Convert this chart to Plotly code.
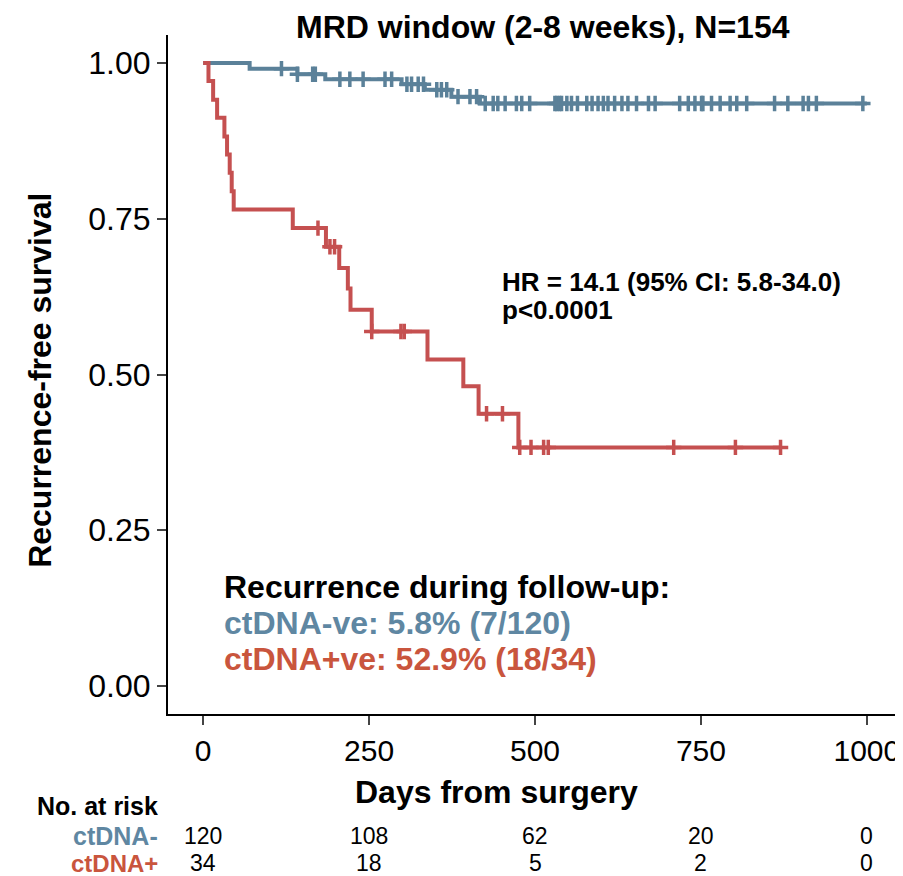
import plotly.graph_objects as go

# ---------------- data ----------------
# ctDNA-negative (blue): event days and survival after each event
neg_event_days = [0, 70, 142, 184, 299, 334, 374, 417, 1000]
neg_surv = [1.0, 0.991, 0.982, 0.974, 0.966, 0.957, 0.946, 0.935, 0.935]
neg_censor_days = [118, 142, 165, 169, 206, 221, 241, 274, 284, 307, 314, 324, 332,
                   352, 359, 367, 384, 402, 412, 425, 437, 444, 455, 472, 480, 492,
                   530, 533, 537, 540, 548, 555, 564, 578, 586, 595, 603, 610, 620,
                   631, 640, 653, 671, 681, 718, 731, 741, 751, 753, 766, 779, 794,
                   804, 819, 861, 881, 904, 912, 924, 994]

# ctDNA-positive (red)
pos_event_days = [0, 8, 15, 21, 32, 36, 40, 43, 46, 135, 185, 205, 218, 222, 254,
                  338, 392, 415, 475, 870]
pos_surv = [1.0, 0.971, 0.941, 0.912, 0.882, 0.853, 0.824, 0.794, 0.765, 0.735,
            0.705, 0.671, 0.638, 0.604, 0.569, 0.524, 0.481, 0.437, 0.383, 0.383]
pos_censor_days = [173, 191, 198, 254, 298, 303, 427, 451, 477, 494, 513, 520, 709, 802, 870]

risk_days = [0, 250, 500, 750, 1000]
risk_neg = [120, 108, 62, 20, 0]
risk_pos = [34, 18, 5, 2, 0]

x_ticks = [0, 250, 500, 750, 1000]
y_ticks = [0.0, 0.25, 0.5, 0.75, 1.0]
y_ticklabels = ["0.00", "0.25", "0.50", "0.75", "1.00"]

BLUE = "#5b8199"
RED = "#c55050"
BLUE_TXT = "#5f87a2"
RED_TXT = "#c9553d"
FONT = "Liberation Sans, Arial, sans-serif"


def surv_at(days, surv, t):
    s = surv[0]
    for d, v in zip(days, surv):
        if d <= t:
            s = v
    return s


fig = go.Figure()

for ed, sv, cd, col in [(neg_event_days, neg_surv, neg_censor_days, BLUE),
                        (pos_event_days, pos_surv, pos_censor_days, RED)]:
    fig.add_trace(go.Scatter(x=ed, y=sv, mode="lines", line=dict(color=col, width=4, shape="hv"),
                             showlegend=False, hoverinfo="skip"))
    fig.add_trace(go.Scatter(x=cd, y=[surv_at(ed, sv, t) for t in cd], mode="markers",
                             marker=dict(symbol="cross-thin", size=11, line=dict(color=col, width=3.5)),
                             showlegend=False, hoverinfo="skip"))

annotations = []
# title
annotations.append(dict(text="<b>MRD window (2-8 weeks), N=154</b>", x=0.512, y=1.012, xref="paper", yref="paper",
                        xanchor="center", yanchor="middle", showarrow=False, font=dict(size=32, color="black")))
# axis titles
annotations.append(dict(text="<b>Days from surgery</b>", x=0.449, y=-0.115, xref="paper", yref="paper",
                        xanchor="center", yanchor="middle", showarrow=False, font=dict(size=32, color="black")))
annotations.append(dict(text="<b>Recurrence-free survival</b>", x=-0.175, y=0.492, xref="paper", yref="paper",
                        xanchor="center", yanchor="middle", showarrow=False, textangle=-90,
                        font=dict(size=32, color="black")))
# HR
annotations.append(dict(text="<b>HR = 14.1 (95% CI: 5.8-34.0)</b>", x=447, y=0.648, xref="x", yref="y",
                        xanchor="left", yanchor="middle", showarrow=False, font=dict(size=26, color="black")))
annotations.append(dict(text="<b>p<0.0001</b>", x=447, y=0.603, xref="x", yref="y",
                        xanchor="left", yanchor="middle", showarrow=False, font=dict(size=26, color="black")))
# recurrence text
annotations.append(dict(text="<b>Recurrence during follow-up:</b>", x=28, y=0.159, xref="x", yref="y",
                        xanchor="left", yanchor="middle", showarrow=False, font=dict(size=32, color="black")))
annotations.append(dict(text="<b>ctDNA-ve: 5.8% (7/120)</b>", x=28, y=0.101, xref="x", yref="y",
                        xanchor="left", yanchor="middle", showarrow=False, font=dict(size=32, color=BLUE_TXT)))
annotations.append(dict(text="<b>ctDNA+ve: 52.9% (18/34)</b>", x=28, y=0.043, xref="x", yref="y",
                        xanchor="left", yanchor="middle", showarrow=False, font=dict(size=32, color=RED_TXT)))
# risk table
annotations.append(dict(text="<b>No. at risk</b>", x=-0.011, y=-0.1355, xref="paper", yref="paper",
                        xanchor="right", yanchor="middle", showarrow=False, font=dict(size=25, color="black")))
annotations.append(dict(text="<b>ctDNA-</b>", x=-0.011, y=-0.1797, xref="paper", yref="paper",
                        xanchor="right", yanchor="middle", showarrow=False, font=dict(size=25, color=BLUE_TXT)))
annotations.append(dict(text="<b>ctDNA+</b>", x=-0.011, y=-0.2195, xref="paper", yref="paper",
                        xanchor="right", yanchor="middle", showarrow=False, font=dict(size=24, color=RED_TXT)))
for d, n1, n2 in zip(risk_days, risk_neg, risk_pos):
    annotations.append(dict(text=str(n1), x=d, y=-0.1797, xref="x", yref="paper", xanchor="center",
                            yanchor="middle", showarrow=False, font=dict(size=23, color="black")))
    annotations.append(dict(text=str(n2), x=d, y=-0.2195, xref="x", yref="paper", xanchor="center",
                            yanchor="middle", showarrow=False, font=dict(size=23, color="black")))

# The page body has an 8px margin, so the figure is 8px smaller and margins are shifted.
fig.update_layout(
    width=895, height=868,
    margin=dict(l=160, r=3, t=27, b=162),
    paper_bgcolor="white", plot_bgcolor="white",
    font=dict(family=FONT, color="black"),
    annotations=annotations,
    xaxis=dict(range=[-53, 1050], tickvals=x_ticks, ticks="outside", ticklen=9, tickwidth=2,
               showline=True, linecolor="black", linewidth=2, showgrid=False, zeroline=False,
               tickfont=dict(size=30, color="black")),
    yaxis=dict(range=[-0.045, 1.045], tickvals=y_ticks, ticktext=y_ticklabels, ticks="outside",
               ticklen=9, tickwidth=2, showline=True, linecolor="black", linewidth=2, showgrid=False,
               zeroline=False, tickfont=dict(size=32, color="black")),
)

fig.write_html("out.html")
